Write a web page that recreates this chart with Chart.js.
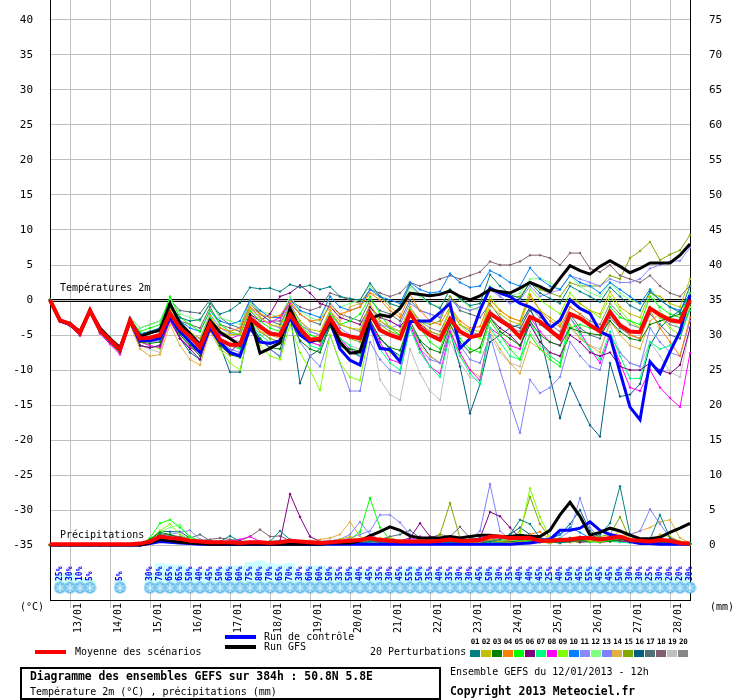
<!DOCTYPE html>
<html>
<head>
<meta charset="utf-8">
<script src="https://cdn.jsdelivr.net/npm/chart.js@4.4.1/dist/chart.umd.min.js"></script>
<style>
  body { margin: 0; background: #fff; }
  #wrap { position: relative; width: 740px; height: 700px; font-family: "DejaVu Sans Mono", monospace; color: #000; }
  #wrap canvas { position: absolute; left: 0; top: 0; }
  .t { position: absolute; white-space: nowrap; font-size: 10px; line-height: 12px; }
  .b { font-weight: bold; font-size: 11.4px; }
  .ln { position: absolute; height: 4px; width: 31px; }
  .sw { position: absolute; top: 650px; width: 10px; height: 7px; }
  .sn { position: absolute; top: 637px; width: 11px; text-align: center; font-size: 7.5px; letter-spacing: -0.3px; font-weight: bold; line-height: 9px; }
</style>
</head>
<body>
<div id="wrap">
  <canvas id="c" width="740" height="700"></canvas>

  <div class="t" style="left:20px;top:601px">(°C)</div>
  <div class="t" style="left:710px;top:601px">(mm)</div>

  <div class="ln" style="left:35px;top:650px;background:#ff0000"></div>
  <div class="t" style="left:75px;top:646px">Moyenne des scénarios</div>
  <div class="ln" style="left:225px;top:635px;background:#0000ff"></div>
  <div class="t" style="left:264px;top:631px">Run de contrôle</div>
  <div class="ln" style="left:225px;top:645px;background:#000000"></div>
  <div class="t" style="left:264px;top:641px">Run GFS</div>
  <div class="t" style="left:370px;top:646px">20 Perturbations</div>
  <div id="swatches"></div>

  <div style="position:absolute;left:20px;top:667px;width:421px;height:33px;border:2px solid #000;box-sizing:border-box"></div>
  <div class="t b" style="left:30px;top:670px">Diagramme des ensembles GEFS sur 384h : 50.8N 5.8E</div>
  <div class="t" style="left:30px;top:686px">Température 2m (°C) , précipitations (mm)</div>
  <div class="t" style="left:450px;top:666px">Ensemble GEFS du 12/01/2013 - 12h</div>
  <div class="t b" style="left:450px;top:685px">Copyright 2013 Meteociel.fr</div>
</div>

<script>
// ---------------- Data ----------------
const days = ['12/01','13/01','14/01','15/01','16/01','17/01','18/01','19/01','20/01',
              '21/01','22/01','23/01','24/01','25/01','26/01','27/01','28/01'];
const hours = ['00h','06h','12h','18h'];
// run du 12/01 12h, pas de 6h sur 384h
const timeLabels = days.flatMap(d => hours.map(h => d + ' ' + h)).slice(2, 67);

const tempTicks = [-35,-30,-25,-20,-15,-10,-5,0,5,10,15,20,25,30,35,40];
const precipTicks = [0,5,10,15,20,25,30,35,40,45,50,55,60,65,70,75];

// probabilité de neige (%)
const snowProb = [0,25,30,10,5,0,0,5,0,0,
  30,70,65,65,50,40,45,
  50,60,60,75,80,70,65,70,
  30,60,60,50,35,50,40,45,
  35,30,45,55,50,35,40,35,
  30,30,45,50,30,35,40,40,
  45,25,40,50,45,55,45,45,
  50,30,30,25,30,20,20,30];

const meanTemp = [0,-2.9,-3.4,-4.7,-1.5,-4.3,-5.7,-7.1,-2.9,
  -5.5,-5.4,-5.0,-1.9,-4.0,-5.2,-6.7,-3.4,
  -5.7,-6.4,-6.4,-2.6,-3.8,-4.8,-5.0,-2.1,
  -4.1,-5.7,-5.5,-2.6,-4.8,-5.2,-5.5,-1.9,
  -4.3,-5.0,-5.5,-1.9,-4.0,-5.0,-5.7,-2.7,
  -4.5,-5.3,-5.0,-1.9,-2.9,-3.8,-5.3,-2.4,
  -3.1,-4.3,-5.5,-2.0,-2.6,-3.6,-4.5,-1.7,
  -3.6,-4.5,-4.6,-1.2,-2.1,-2.9,-3.1,0.0];
const ctrlTemp = [0,-3.0,-3.5,-4.8,-1.5,-4.3,-5.8,-7.2,-3.0,
  -5.8,-5.8,-5.5,-2.5,-4.5,-6.0,-7.5,-4.0,
  -6.0,-7.5,-8.0,-4.0,-6.0,-6.2,-5.8,-2.5,
  -5.0,-6.0,-5.5,-3.0,-7.0,-8.6,-9.3,-3.5,
  -6.9,-7.1,-8.8,-3.1,-3.0,-3.0,-1.8,-0.5,
  -6.9,-5.5,-1.5,1.7,1.0,0.5,-0.5,-1.0,
  -1.9,-4.0,-2.9,0.0,-1.2,-1.9,-4.5,-5.2,
  -10.3,-15.3,-17.1,-8.8,-10.5,-7.4,-4.5,0.7];
const gfsTemp = [0,-2.9,-3.4,-4.5,-1.5,-4.0,-5.5,-6.8,-3.0,
  -5.2,-4.7,-4.3,-0.5,-3.3,-4.8,-6.4,-2.9,
  -4.6,-5.5,-6.5,-2.5,-7.6,-6.9,-6.1,-1.2,
  -4.3,-5.7,-5.7,-3.1,-6.0,-7.6,-7.4,-2.7,
  -2.1,-2.4,-1.2,1.0,0.8,0.6,0.8,1.3,
  0.5,0.0,0.6,1.5,1.2,1.0,1.7,2.5,
  1.9,1.2,3.1,4.9,4.2,3.7,4.8,5.6,
  4.8,3.9,4.5,5.3,5.3,5.3,6.4,8.0];

const meanPrecip = [0.1,0.1,0.1,0.1,0.1,0.1,0.1,0.1,0.1,0.2,
  0.5,1.2,1.0,0.9,0.6,0.5,0.4,
  0.4,0.4,0.3,0.4,0.4,0.3,0.4,0.6,
  0.5,0.4,0.3,0.4,0.5,0.6,0.7,1.0,
  0.7,0.6,0.5,0.5,0.5,0.5,0.6,0.8,
  0.6,0.6,0.7,1.2,1.2,1.0,1.0,1.0,
  0.6,0.6,0.7,0.8,1.0,1.0,0.8,1.0,
  1.2,0.7,0.6,0.5,0.7,0.6,0.3,0.2];
const ctrlPrecip = [0,0,0,0,0,0,0,0,0,0,
  0.2,0.5,0.4,0.3,0.2,0.1,0.1,
  0.1,0.1,0.1,0.1,0.1,0.1,0.1,0.1,
  0.1,0.1,0.1,0.1,0.1,0.1,0.1,0.1,
  0.1,0.1,0.1,0.1,0.1,0.1,0.1,0.1,
  0.1,0.1,0.1,0.1,0.1,0.1,0.2,0.3,
  0.5,0.8,2.1,2.1,2.4,3.3,2.1,1.5,
  1.2,0.5,0.2,0.2,0.1,0.1,0.1,0.1];
const gfsPrecip = [0,0,0,0,0,0,0,0,0,0,
  0.3,0.8,0.6,0.4,0.3,0.2,0.1,
  0.1,0.1,0.1,0.1,0.1,0.1,0.1,0.1,
  0.1,0.1,0.1,0.3,0.3,0.3,0.6,1.3,
  1.9,2.6,2.1,1.3,1.0,1.0,1.0,1.2,
  1.0,1.2,1.4,1.4,1.2,1.2,1.4,1.2,
  1.2,2.1,4.3,6.1,4.1,1.4,1.8,2.4,
  2.0,1.4,0.9,0.9,1.1,1.8,2.4,3.1];

// 20 perturbations : température (°C)
const t01 = [0,-2.8,-3.3,-4.6,-1.4,-4.2,-5.5,-6.9,-2.6,-4.8,-4.5,-4.0,-0.8,-2.5,-3.0,-2.8,-0.5,-2.0,-1.5,-0.4,1.8,1.6,1.7,1.2,2.2,1.8,2.1,1.5,1.9,0.5,0.2,0.0,2.4,0.5,-0.5,-1.0,2.2,0.8,-0.5,-1.2,1.5,0.2,-0.8,-0.5,3.6,2.0,0.8,0.2,2.5,1.0,0.2,-0.5,2.0,1.2,0.5,-0.3,1.8,0.5,-0.8,-1.5,1.2,0.0,-1.0,-1.8,2.0];
const t02 = [0,-3.0,-3.5,-4.8,-1.6,-4.4,-5.9,-7.3,-3.0,-5.0,-4.8,-4.2,-1.0,-3.5,-4.6,-5.5,-2.2,-4.5,-5.0,-4.8,-1.2,-2.5,-3.5,-3.8,-0.8,-3.0,-4.2,-4.5,-1.5,-3.5,-4.0,-4.2,-0.5,-3.0,-3.8,-4.5,-1.0,-3.2,-4.5,-5.0,-1.5,-3.5,-4.2,-4.5,-0.8,-2.0,-3.0,-3.5,0.5,-1.5,-2.5,-3.5,0.2,-0.5,-1.5,-2.0,1.2,-1.0,-2.0,-2.5,1.0,0.5,-0.5,-1.0,3.0];
const t03 = [0,-3.1,-3.6,-5.0,-1.7,-4.6,-6.0,-7.5,-3.2,-6.0,-6.2,-6.0,-2.5,-5.0,-6.5,-8.0,-4.0,-6.5,-7.8,-8.2,-3.5,-5.5,-6.8,-7.0,-2.8,-5.8,-7.0,-7.5,-3.8,-6.5,-7.0,-7.3,-2.8,-5.5,-6.8,-7.2,-3.0,-5.8,-7.0,-7.5,-3.5,-6.0,-7.5,-6.8,-2.5,-4.5,-5.5,-6.5,-3.0,-5.0,-6.0,-6.5,-4.0,-4.5,-4.8,-5.0,-3.0,-4.5,-5.5,-5.8,-3.5,-3.0,-2.5,-2.0,-0.5];
const t04 = [0,-2.9,-3.4,-4.6,-1.5,-4.2,-5.6,-7.0,-3.1,-5.5,-5.5,-5.2,-1.5,-4.5,-6.0,-7.0,-3.0,-4.0,-4.5,-4.0,-1.0,-2.0,-2.5,-2.2,-0.2,-2.0,-3.0,-2.8,-1.0,-2.0,-1.5,-1.0,1.0,0.0,-1.5,-2.5,0.8,-1.5,-3.0,-3.5,-1.0,-3.0,-4.0,-3.8,0.0,-1.5,-2.5,-3.0,0.8,-1.5,-3.0,-3.8,-1.0,-2.0,-3.5,-4.5,-1.5,-3.5,-5.0,-5.5,-1.5,-4.0,-6.0,-8.0,-2.5];
const t05 = [0,-2.8,-3.3,-4.5,-1.3,-4.1,-5.4,-6.8,-2.7,-4.5,-4.0,-3.5,0.5,-2.5,-3.5,-4.5,-1.5,-3.5,-4.5,-5.0,-1.5,-3.0,-4.0,-4.5,-1.0,-3.5,-5.0,-5.5,-2.0,-3.5,-3.0,-2.0,0.5,-2.0,-4.0,-5.0,-1.5,-4.0,-6.0,-7.0,-3.0,-5.5,-7.0,-7.5,-3.0,-5.0,-7.0,-8.5,-5.0,-7.0,-8.5,-9.5,-4.0,-3.5,-4.0,-4.5,-1.0,-2.5,-3.0,-3.5,0.5,-1.0,-2.0,-2.5,1.0];
const t06 = [0,-3.0,-3.5,-4.8,-1.6,-4.5,-6.0,-7.2,-3.3,-6.5,-6.8,-6.5,-2.8,-5.5,-7.0,-8.5,-4.2,-6.5,-7.5,-6.0,-2.0,-3.0,-2.0,0.5,1.0,2.1,1.0,-0.5,-1.0,-2.5,-3.0,-3.5,-1.0,-2.5,-3.0,-3.8,-2.0,-3.5,-4.5,-5.0,-2.5,-4.5,-5.5,-5.0,-2.5,-4.0,-5.0,-6.5,-3.5,-6.0,-7.5,-8.0,-5.0,-6.0,-7.5,-8.0,-7.5,-9.5,-10.0,-10.0,-9.0,-10.0,-10.5,-9.3,-4.0];
const t07 = [0,-3.0,-3.5,-4.9,-1.6,-4.4,-5.8,-7.3,-3.0,-5.8,-5.8,-5.5,-1.8,-4.5,-5.5,-6.0,-2.5,-5.5,-6.5,-7.0,-3.0,-5.0,-6.0,-6.2,-1.5,-4.5,-6.5,-7.0,-2.5,-5.5,-6.5,-8.0,-3.5,-7.0,-9.0,-10.0,-4.0,-7.5,-9.5,-11.0,-5.0,-8.0,-10.5,-12.0,-4.0,-6.0,-8.0,-8.5,-3.0,-6.0,-8.0,-9.0,-2.5,-5.0,-7.0,-8.5,-4.5,-8.0,-11.2,-11.2,-6.0,-7.0,-6.5,-5.0,-1.5];
const t08 = [0,-3.1,-3.7,-5.1,-1.8,-4.8,-6.3,-7.8,-3.3,-6.0,-6.5,-6.8,-3.0,-5.5,-6.8,-7.5,-3.5,-5.0,-5.5,-5.0,-1.5,-3.0,-3.2,-2.5,-0.5,-4.0,-6.0,-6.5,-3.0,-5.5,-7.0,-8.0,-3.0,-6.0,-8.5,-9.0,-3.5,-7.0,-9.5,-10.5,-4.5,-7.5,-10.0,-11.5,-4.0,-5.0,-6.5,-7.0,-2.5,-4.5,-6.0,-6.5,-2.5,-4.5,-7.0,-9.0,-5.0,-9.0,-12.5,-13.0,-10.0,-12.5,-14.0,-15.3,-7.6];
const t09 = [0,-2.9,-3.5,-4.8,-1.6,-4.5,-6.0,-7.5,-3.1,-6.0,-6.5,-7.0,-2.0,-5.0,-6.5,-7.5,-3.5,-7.0,-9.0,-10.0,-4.0,-6.5,-8.0,-8.5,-3.5,-7.5,-10.0,-12.9,-5.0,-9.0,-11.0,-11.5,-4.0,-6.5,-7.5,-8.0,-2.0,-4.0,-5.0,-5.5,-1.0,-3.5,-5.0,-5.5,0.5,-1.5,-2.5,-3.0,1.5,0.0,-1.0,-2.0,1.0,-0.5,-1.5,-2.5,0.5,-1.5,-3.0,-4.0,-1.0,-2.5,-4.0,-5.0,-0.5];
const t10 = [0,-2.8,-3.3,-4.5,-1.4,-4.0,-5.4,-6.8,-2.6,-5.0,-4.5,-4.0,-1.0,-3.0,-4.0,-4.5,-1.5,-3.0,-3.5,-3.0,0.0,-1.5,-2.5,-2.5,0.0,-1.5,-2.0,-2.5,0.5,-1.0,-1.5,-1.0,1.5,0.5,0.0,-0.5,2.5,1.5,1.0,1.2,3.8,2.5,1.8,2.0,4.2,3.5,2.5,2.0,4.6,3.0,2.0,1.5,3.5,2.5,2.0,1.0,2.5,1.5,0.5,-0.5,1.5,0.0,-1.0,-1.5,1.0];
const t11 = [0,-3.0,-3.4,-4.7,-1.5,-4.3,-5.7,-7.0,-3.0,-5.5,-5.2,-5.0,-1.5,-4.0,-5.0,-5.5,-2.0,-4.0,-4.8,-5.0,-1.0,-2.5,-3.5,-4.0,-0.5,-3.0,-4.5,-5.0,-1.5,-4.0,-5.0,-5.5,-2.0,-3.5,-4.0,-3.5,-0.5,-1.5,-2.0,-2.5,0.0,-1.0,-1.5,-1.0,1.5,0.5,-0.5,0.0,2.0,0.5,1.0,1.5,3.5,3.0,2.5,2.0,3.0,2.5,2.5,3.0,4.5,5.0,5.5,5.6,7.5];
const t12 = [0,-2.7,-3.2,-4.4,-1.2,-4.0,-5.3,-6.7,-2.5,-4.0,-3.5,-3.0,0.2,-2.0,-2.5,-3.0,-0.5,-2.5,-3.0,-3.5,-0.5,-1.5,-2.0,-2.5,0.5,-1.5,-2.5,-3.0,0.5,-1.0,-0.5,0.0,2.0,0.5,-0.5,-1.0,1.8,0.5,-0.5,-1.0,1.5,0.0,-1.0,-1.5,2.0,1.0,0.5,1.0,3.0,3.1,2.5,1.5,3.5,2.0,1.0,0.5,2.5,1.0,0.0,-0.5,1.5,-1.5,-3.0,-4.0,-1.0];
const t13 = [0,-3.0,-3.5,-4.9,-1.7,-4.5,-6.0,-7.5,-3.2,-6.0,-6.0,-5.8,-2.0,-5.0,-6.5,-7.5,-3.8,-6.0,-7.0,-7.5,-3.0,-5.5,-7.0,-8.0,-2.5,-6.0,-8.0,-9.5,-5.0,-9.0,-13.0,-13.0,-6.0,-8.5,-10.0,-10.5,-4.0,-7.0,-8.5,-9.0,-3.5,-6.5,-8.5,-9.0,-5.0,-10.0,-14.7,-19.0,-11.4,-13.3,-12.5,-11.0,-6.0,-8.0,-9.5,-10.0,-5.0,-7.5,-9.0,-9.5,-4.0,-6.0,-7.5,-8.0,-3.0];
const t14 = [0,-3.1,-3.7,-5.1,-1.8,-4.8,-6.3,-7.6,-3.5,-7.0,-8.0,-7.8,-3.5,-6.5,-8.5,-9.3,-4.5,-7.0,-8.0,-7.5,-3.0,-4.5,-5.0,-5.5,-2.0,-4.0,-5.5,-5.0,-1.5,-3.0,-1.0,-0.5,1.0,0.5,-1.0,-2.0,-3.5,-6.5,-8.0,-9.0,-4.0,-8.0,-10.0,-11.0,-4.5,-7.0,-9.0,-10.5,-6.0,-7.0,-8.0,-9.0,-3.5,-5.5,-6.5,-7.5,-3.0,-5.0,-6.5,-7.0,-3.0,-2.0,-2.5,-3.0,-0.5];
const t15 = [0,-2.9,-3.4,-4.7,-1.5,-4.3,-5.7,-7.1,-3.0,-5.8,-6.0,-5.5,-2.0,-4.5,-5.5,-6.5,-3.0,-5.5,-6.5,-6.8,-2.5,-4.5,-5.5,-6.0,-1.5,-4.0,-5.5,-6.0,-2.0,-4.5,-5.5,-6.0,-1.5,-3.5,-4.5,-5.0,-1.5,-3.0,-3.5,-3.0,0.5,-1.0,-1.5,-1.0,1.5,1.0,0.5,0.5,2.5,1.5,1.0,0.5,2.5,2.0,2.0,2.0,3.5,3.0,6.0,7.0,8.3,5.7,6.5,7.1,9.3];
const t16 = [0,-3.0,-3.6,-5.0,-1.7,-4.6,-6.1,-7.4,-3.2,-6.5,-6.8,-6.5,-2.0,-5.5,-7.5,-8.5,-3.5,-6.5,-10.3,-10.3,-3.5,-5.5,-7.0,-8.1,-2.0,-11.9,-8.0,-7.0,-3.5,-6.5,-7.5,-8.0,-3.0,-5.5,-7.0,-8.0,-3.5,-6.0,-8.0,-9.0,-4.5,-9.5,-16.2,-12.0,-6.0,-5.0,-4.0,-3.5,-1.0,-5.0,-11.0,-16.9,-11.9,-15.0,-17.9,-19.5,-9.0,-13.8,-13.5,-12.0,-6.5,-4.0,-2.5,-1.5,0.5];
const t17 = [0,-2.8,-3.2,-4.5,-1.3,-4.0,-5.3,-6.7,-2.5,-4.0,-3.5,-3.0,0.0,-1.5,-1.7,-1.9,0.0,-2.5,-3.5,-4.0,0.0,-2.0,-3.0,-3.5,-0.5,-2.0,-3.0,-3.5,-0.5,-2.0,-2.5,-3.0,0.0,-1.5,-2.0,-3.0,0.0,-1.5,-2.0,-2.5,0.5,-1.5,-2.0,-2.5,-0.5,-2.5,-3.5,-4.0,-1.5,-3.5,-4.5,-5.0,-2.0,-4.0,-5.0,-5.5,-2.5,-4.0,-5.0,-5.5,-2.0,-3.5,-5.0,-5.5,-1.0];
const t18 = [0,-2.9,-3.4,-4.6,-1.5,-4.2,-5.6,-7.0,-2.8,-5.0,-4.8,-4.5,-1.2,-3.0,-3.5,-4.0,-1.0,-3.5,-4.0,-4.5,-0.5,-2.0,-3.0,-3.0,0.0,-1.0,-1.5,-1.0,1.0,0.5,0.0,-0.5,1.5,1.0,0.5,1.0,2.5,2.0,2.5,3.0,3.5,3.0,3.5,4.0,5.5,5.0,5.0,5.5,6.4,6.4,6.0,5.0,6.7,6.7,4.5,4.0,5.0,3.5,3.0,2.5,3.5,2.0,1.0,0.5,2.0];
const t19 = [0,-3.1,-3.6,-5.0,-1.7,-4.6,-6.0,-7.6,-3.3,-6.5,-7.0,-7.5,-2.5,-5.5,-6.5,-7.0,-3.0,-5.5,-6.5,-7.0,-2.0,-4.5,-5.5,-6.0,-1.5,-4.5,-6.0,-6.5,-2.5,-5.5,-6.5,-7.0,-3.0,-11.4,-13.5,-14.3,-7.0,-10.5,-13.0,-14.3,-6.0,-9.0,-11.0,-11.5,-5.0,-7.5,-9.0,-9.5,-4.5,-6.5,-7.5,-8.0,-4.0,-5.5,-6.5,-7.0,-3.5,-7.5,-9.0,-9.5,-6.0,-8.0,-10.3,-11.0,-4.0];
const t20 = [0,-2.9,-3.5,-4.8,-1.6,-4.4,-5.8,-7.2,-3.0,-5.5,-5.5,-5.3,-1.8,-4.0,-5.0,-6.0,-2.5,-5.0,-5.5,-6.0,-2.0,-3.5,-4.5,-5.0,-1.5,-3.5,-4.5,-5.0,-2.0,-3.5,-4.0,-4.5,-1.0,-3.0,-4.0,-4.5,-1.0,-3.0,-4.0,-4.5,-1.5,-3.5,-4.5,-5.0,-1.5,-3.0,-4.0,-4.5,-1.0,-2.5,-3.5,-4.5,-1.0,-2.0,-3.0,-3.5,-0.5,-2.0,-3.5,-4.0,-1.0,-2.5,-3.5,-4.0,-0.5];

// 20 perturbations : précipitations (mm)
const r01 = [0,0,0,0,0,0,0,0,0,0,0.5,1.5,1.0,0.8,0.5,0.3,0.3,0.5,1.3,0.5,0.3,0.2,0.5,2.0,0.8,0.5,0.3,0.2,0.3,0.5,0.4,0.3,0.5,0.4,0.3,0.3,0.2,0.3,0.5,0.4,0.3,0.5,0.8,0.6,0.5,0.8,1.5,3.6,3.0,1.0,0.5,0.3,0.5,0.8,1.0,1.5,3.1,8.4,1.5,0.5,0.8,4.3,1.0,0.4,0.2];
const r02 = [0,0,0,0,0,0,0,0,0,0,0.3,0.8,0.6,0.5,0.3,0.2,0.2,0.2,0.2,0.1,0.2,0.3,0.2,0.1,0.3,0.2,0.3,0.5,0.5,0.8,1.2,0.6,0.5,0.3,0.2,0.4,0.5,0.3,0.2,0.5,0.8,0.5,0.3,0.4,0.6,0.5,0.3,0.5,0.8,0.5,0.3,0.5,0.8,1.0,0.6,0.5,1.0,2.0,0.8,0.5,0.3,1.5,1.2,0.5,0.2];
const r03 = [0,0,0,0,0,0,0,0,0,0,0.8,1.8,1.5,1.0,0.6,0.4,0.3,0.3,0.2,0.2,0.3,0.2,0.2,0.3,0.4,0.3,0.3,0.2,0.4,0.5,0.4,0.6,1.0,0.5,0.4,0.3,0.3,0.4,0.5,0.3,0.4,0.3,0.2,0.3,0.5,0.5,0.4,0.6,0.8,0.5,0.4,0.3,0.5,0.6,0.8,0.7,0.5,0.8,0.5,0.3,0.4,0.5,0.3,0.2,0.1];
const r04 = [0,0,0,0,0,0,0,0,0,0,0.2,0.6,0.8,0.5,0.3,0.2,0.1,0.1,0.2,0.3,0.2,0.1,0.2,0.2,0.3,0.2,0.3,0.4,0.5,0.6,0.8,0.5,0.8,1.0,0.8,0.5,0.3,0.5,0.4,0.3,0.6,0.5,0.4,0.6,0.8,0.5,0.6,1.0,1.5,1.9,0.8,0.5,0.4,0.6,0.8,0.6,1.0,0.8,0.5,0.4,0.3,0.5,0.4,0.2,0.1];
const r05 = [0,0,0,0,0,0,0,0,0,0,1.0,3.1,3.6,2.5,1.2,0.6,0.4,0.3,0.4,0.3,0.2,0.3,0.4,0.3,0.2,0.3,0.2,0.3,0.4,0.5,0.8,1.9,6.7,2.5,0.8,0.5,0.4,0.3,0.5,0.6,1.0,0.5,0.4,0.3,0.5,0.4,0.3,0.5,0.6,0.4,0.3,0.5,0.6,0.8,0.5,0.4,0.6,0.8,0.5,0.3,0.4,0.6,0.5,0.3,0.2];
const r06 = [0,0,0,0,0,0,0,0,0,0,0.5,1.2,1.0,0.6,0.4,0.3,0.2,0.2,0.3,0.2,0.3,0.2,0.3,0.5,7.3,4.0,1.2,0.5,0.3,0.4,0.5,0.4,0.6,0.5,0.4,0.6,1.0,3.1,1.2,1.0,0.8,0.6,0.5,1.0,4.7,4.1,2.5,1.0,0.5,0.4,0.3,0.5,0.6,0.4,0.5,0.6,0.8,0.6,0.5,0.3,0.4,0.3,0.5,0.3,0.2];
const r07 = [0,0,0,0,0,0,0,0,0,0,0.6,1.5,1.2,0.8,0.5,0.3,0.2,0.2,0.3,0.2,0.1,0.2,0.3,0.2,0.3,0.2,0.3,0.5,0.4,0.5,0.6,0.8,0.5,0.4,0.3,0.5,0.6,0.4,0.3,0.5,0.4,0.3,0.5,0.6,0.4,0.5,0.8,0.6,0.5,0.6,0.8,1.0,0.6,0.5,0.4,0.6,0.5,0.4,0.3,0.5,0.6,0.4,0.3,0.2,0.1];
const r08 = [0,0,0,0,0,0,0,0,0,0,0.4,1.0,0.8,0.5,0.3,0.4,0.3,0.3,0.5,0.8,1.2,0.5,0.3,0.2,0.4,0.3,0.2,0.3,0.4,0.3,0.5,0.6,1.2,0.5,0.3,0.4,0.8,1.2,0.6,0.5,0.4,0.3,0.4,0.5,0.6,0.4,0.3,0.5,0.6,0.5,0.4,0.6,0.8,1.0,0.6,0.4,0.5,0.6,0.4,0.3,0.5,0.4,0.3,0.2,0.1];
const r09 = [0,0,0,0,0,0,0,0,0,0,0.8,2.0,3.0,1.5,0.8,0.5,0.3,0.3,0.2,0.3,0.2,0.3,0.4,0.3,0.5,0.4,0.3,0.4,0.5,0.3,0.4,0.5,0.8,0.5,0.4,0.3,0.5,0.4,0.3,0.6,0.8,0.5,0.4,0.3,0.6,0.8,1.0,1.5,8.1,4.0,1.0,0.6,0.5,0.4,0.6,0.8,0.5,0.6,0.4,0.3,0.5,0.4,0.3,0.2,0.1];
const r10 = [0,0,0,0,0,0,0,0,0,0,0.3,0.8,0.6,0.4,0.3,0.2,0.2,0.2,0.1,0.2,0.3,0.2,0.1,0.2,0.3,0.2,0.1,0.2,0.3,0.2,0.3,0.4,0.3,0.2,0.3,0.2,0.1,0.2,0.3,0.2,0.4,0.3,0.2,0.4,0.5,0.3,0.4,0.5,0.6,0.8,1.0,1.5,2.5,1.8,1.0,0.6,0.8,0.5,0.4,0.3,0.4,0.3,0.2,0.2,0.1];
const r11 = [0,0,0,0,0,0,0,0,0,0,0.5,1.2,1.5,1.8,2.1,0.8,0.5,0.3,0.4,0.3,0.2,0.3,0.4,0.3,0.4,0.5,0.4,0.3,0.5,0.6,1.0,1.5,2.0,4.3,4.3,3.2,1.5,0.8,0.5,0.6,0.5,0.4,0.5,0.6,0.8,0.5,0.4,0.6,0.5,0.6,0.8,1.0,2.0,6.7,2.5,0.8,0.6,0.5,0.4,0.3,0.5,0.4,0.3,0.2,0.1];
const r12 = [0,0,0,0,0,0,0,0,0,0,0.6,1.8,2.5,2.9,1.0,0.5,0.3,0.3,0.2,0.3,0.4,0.3,0.2,0.3,0.4,0.3,0.2,0.3,0.2,0.3,0.4,0.5,0.6,0.4,0.3,0.2,0.3,0.4,0.3,0.5,0.6,0.4,0.3,0.5,0.4,0.6,0.5,0.8,1.0,0.6,0.4,0.5,0.6,0.8,0.5,0.4,0.6,0.5,0.4,0.3,0.5,0.4,0.3,0.2,0.1];
const r13 = [0,0,0,0,0,0,0,0,0,0,0.4,1.0,0.8,0.6,0.5,0.3,0.4,0.3,0.2,0.3,0.2,0.3,0.4,0.3,0.5,0.4,0.3,0.5,0.6,0.8,1.5,3.3,1.5,0.8,0.5,0.4,0.3,0.5,0.6,0.4,0.5,0.6,0.8,2.0,8.7,2.0,0.8,0.5,0.6,0.5,0.4,0.6,0.5,0.8,0.6,0.5,0.8,1.0,1.5,2.0,5.1,3.0,1.0,0.5,0.2];
const r14 = [0,0,0,0,0,0,0,0,0,0,0.3,0.9,0.8,0.5,0.4,0.3,0.2,0.2,0.3,0.2,0.3,0.4,0.3,0.2,0.4,0.5,0.6,0.8,1.0,1.5,3.3,1.2,0.6,0.5,1.0,0.6,0.4,0.5,0.4,0.3,0.5,0.4,0.3,0.5,0.6,0.4,0.5,0.6,0.8,0.6,0.5,0.4,0.6,0.8,1.0,0.8,0.6,1.2,1.5,2.0,2.5,3.3,3.6,1.0,0.3];
const r15 = [0,0,0,0,0,0,0,0,0,0,0.5,1.2,1.0,0.6,0.4,0.3,0.2,0.2,0.3,0.2,0.3,0.2,0.3,0.4,0.5,0.4,0.3,0.2,0.3,0.4,0.5,0.6,0.8,0.5,0.4,0.3,0.5,0.6,0.8,1.5,6.0,1.0,0.5,0.4,0.6,0.5,0.8,2.0,6.9,3.0,1.0,0.6,0.5,0.8,1.0,1.2,1.5,4.0,0.8,0.5,0.6,0.5,0.4,0.3,0.2];
const r16 = [0,0,0,0,0,0,0,0,0,0,0.8,2.0,1.9,1.9,1.0,0.5,0.3,0.3,0.4,0.5,0.3,0.4,0.5,0.6,0.4,0.3,0.4,0.3,0.5,0.4,0.3,0.5,0.6,0.8,1.0,0.6,0.5,0.4,0.6,0.8,0.6,0.5,0.8,1.0,0.6,0.8,1.5,2.5,1.5,1.0,0.8,1.5,3.0,5.0,2.0,1.0,0.8,0.6,0.5,0.4,0.6,0.5,0.4,0.3,0.2];
const r17 = [0,0,0,0,0,0,0,0,0,0,0.6,1.6,1.4,1.2,1.0,1.5,0.6,0.5,0.4,0.3,0.4,0.3,0.2,0.4,0.5,0.4,0.3,0.4,0.5,0.6,0.5,0.8,1.0,0.8,1.2,1.5,2.1,1.0,0.6,0.5,0.4,0.5,0.6,0.5,0.8,0.6,0.5,0.4,0.6,0.5,0.6,0.8,1.0,0.8,0.6,0.5,0.8,0.6,0.5,0.4,0.6,0.8,0.5,0.3,0.2];
const r18 = [0,0,0,0,0,0,0,0,0,0,0.4,1.0,0.8,0.6,0.5,0.6,0.8,1.0,0.8,0.6,1.2,2.2,1.2,1.3,0.6,0.5,0.4,0.3,0.5,0.4,0.5,0.6,0.5,0.4,0.3,0.5,0.6,0.8,1.0,1.5,1.2,2.6,1.0,0.6,0.5,0.4,0.6,0.5,0.8,0.6,0.5,0.8,1.0,0.6,0.5,0.4,0.6,0.5,0.4,0.6,0.8,0.5,0.4,0.3,0.2];
const r19 = [0,0,0,0,0,0,0,0,0,0,0.5,1.0,0.8,0.6,0.4,0.3,0.3,0.2,0.3,0.2,0.3,0.4,0.3,0.2,0.3,0.4,0.5,0.3,0.4,0.5,0.6,0.4,0.5,0.6,0.5,0.4,0.5,0.3,0.4,0.6,0.5,0.4,0.5,0.6,0.8,0.6,0.5,0.4,0.6,0.5,0.6,0.8,0.6,0.5,0.8,1.0,0.8,0.6,0.5,0.8,1.0,0.6,0.5,0.3,0.2];
const r20 = [0,0,0,0,0,0,0,0,0,0,0.6,1.2,1.0,0.8,0.6,0.4,0.3,0.3,0.4,0.3,0.2,0.3,0.4,0.5,0.6,0.4,0.3,0.4,0.5,0.4,0.6,0.5,0.8,0.6,0.5,0.4,0.6,0.5,0.4,0.6,0.8,0.6,0.5,0.8,1.0,0.8,0.6,0.5,0.6,0.5,0.6,0.5,0.8,1.2,0.8,0.6,0.5,0.6,0.8,0.5,0.6,0.5,0.4,0.3,0.2];

const pertTemp = [t01,t02,t03,t04,t05,t06,t07,t08,t09,t10,t11,t12,t13,t14,t15,t16,t17,t18,t19,t20];
const pertPrecip = [r01,r02,r03,r04,r05,r06,r07,r08,r09,r10,r11,r12,r13,r14,r15,r16,r17,r18,r19,r20];
const pertColors = ['#008080','#c0c000','#008000','#ff8000','#00ff00','#800080','#00ff80','#ff00ff','#80ff00','#0080ff',
                    '#8888ff','#80ff80','#8080ff','#e0b040','#80a800','#006080','#507078','#806070','#c0c0c0','#888888'];

// ---------------- Legend swatches ----------------
const swBox = document.getElementById('swatches');
pertColors.forEach((col, i) => {
  const left = 470 + i * 10.96;
  const n = document.createElement('div');
  n.className = 'sn';
  n.style.left = (left - 0.5) + 'px';
  n.textContent = String(i + 1).padStart(2, '0');
  swBox.appendChild(n);
  const s = document.createElement('div');
  s.className = 'sw';
  s.style.left = left + 'px';
  s.style.background = col;
  swBox.appendChild(s);
});

// ---------------- Chart ----------------
const MONO = '"DejaVu Sans Mono", monospace';
Chart.defaults.font.family = MONO;
Chart.defaults.color = '#000';

const SNOW_ROW = -41.1;   // rangée des flocons (en °C, sous l'axe)

function makeFlake() {
  const c = document.createElement('canvas');
  c.width = 13; c.height = 13;
  const g = c.getContext('2d');
  g.fillStyle = '#78c6ee';
  g.beginPath(); g.arc(6.5, 6.5, 6, 0, Math.PI * 2); g.fill();
  g.strokeStyle = '#e4f8ff'; g.lineWidth = 1;
  for (let k = 0; k < 3; k++) {
    const a = k * Math.PI / 3 + Math.PI / 2;
    g.beginPath();
    g.moveTo(6.5 + 4.5 * Math.cos(a), 6.5 + 4.5 * Math.sin(a));
    g.lineTo(6.5 - 4.5 * Math.cos(a), 6.5 - 4.5 * Math.sin(a));
    g.stroke();
  }
  g.fillStyle = '#3c90d8';
  [[3, 3], [10, 3], [3, 10], [10, 10], [6.5, 1.5], [6.5, 11.5]].forEach(([px, py]) => g.fillRect(px - 0.5, py - 0.5, 1, 1));
  return c;
}
const flake = makeFlake();

const lineDs = (label, data, color, width, axis, points) => ({
  type: 'line', label, data, yAxisID: axis,
  borderColor: color, backgroundColor: color, borderWidth: width,
  pointRadius: points ? 1.5 : 0, pointStyle: 'rectRot', pointBorderWidth: 0,
  tension: 0
});

const datasets = [
  lineDs('Moyenne T', meanTemp, '#ff0000', 4, 'y', false),
  lineDs('Moyenne P', meanPrecip, '#ff0000', 4, 'y2', false),
  lineDs('GFS T', gfsTemp, '#000000', 3, 'y', false),
  lineDs('GFS P', gfsPrecip, '#000000', 3, 'y2', false),
  lineDs('Contrôle T', ctrlTemp, '#0000ff', 3, 'y', false),
  lineDs('Contrôle P', ctrlPrecip, '#0000ff', 3, 'y2', false)
];
pertTemp.forEach((d, i) => {
  datasets.push(lineDs('P' + (i + 1) + ' T', d, pertColors[i], 1, 'y', true));
  datasets.push(lineDs('P' + (i + 1) + ' P', pertPrecip[i], pertColors[i], 1, 'y2', true));
});
datasets.push({
  type: 'line', label: 'neige', yAxisID: 'y',
  data: snowProb.map(p => p > 0 ? SNOW_ROW : null),
  showLine: false, pointStyle: flake, pointRadius: 6
});
datasets.push({
  type: 'bar', label: 'proba', yAxisID: 'yProb',
  data: snowProb.map(p => p || null),
  base: -36, backgroundColor: '#ccffff', borderWidth: 0,
  barPercentage: 1, categoryPercentage: 1
});

const overlay = {
  id: 'overlay',
  beforeDatasetsDraw(chart) {
    const { ctx, chartArea: a, scales: { y } } = chart;
    const y0 = Math.round(y.getPixelForValue(0));
    ctx.save();
    ctx.strokeStyle = '#000';
    ctx.lineWidth = 1;
    [y0 - 0.5, y0 + 1.5].forEach(py => {
      ctx.beginPath(); ctx.moveTo(a.left, py); ctx.lineTo(a.right, py); ctx.stroke();
    });
    ctx.restore();
  },
  afterDatasetsDraw(chart) {
    const { ctx, scales: { x, y } } = chart;
    ctx.save();
    ctx.fillStyle = '#000';
    ctx.font = '10px ' + MONO;
    ctx.textBaseline = 'middle';
    ctx.textAlign = 'left';
    ctx.fillText('Températures 2m', 60, y.getPixelForValue(0) - 12);
    ctx.fillText('Précipitations', 60, y.getPixelForValue(-35) - 10);

    ctx.fillStyle = '#0000ff';
    ctx.font = 'bold 8px ' + MONO;
    snowProb.forEach((p, i) => {
      if (!p) return;
      ctx.save();
      ctx.translate(x.getPixelForValue(i) - 0.5, 581);
      ctx.rotate(-Math.PI / 2);
      ctx.fillText(p + '%', 0, 0);
      ctx.restore();
    });
    ctx.restore();
  }
};

new Chart(document.getElementById('c'), {
  type: 'line',
  data: { labels: timeLabels, datasets },
  plugins: [overlay],
  options: {
    responsive: false,
    animation: false,
    events: [],
    layout: { padding: 0, autoPadding: false },
    plugins: { legend: { display: false }, tooltip: { enabled: false } },
    scales: {
      x: {
        type: 'category',
        offset: false,
        grid: {
          offset: false,
          color: c => (c.index % 4 === 2 ? '#c0c0c0' : 'rgba(0,0,0,0)'),
          tickLength: 8
        },
        border: { color: '#000' },
        ticks: {
          autoSkip: false, minRotation: 90, maxRotation: 90,
          padding: -5, labelOffset: 8,
          font: { size: 10 },
          callback: (v, i) => (timeLabels[i].endsWith('00h') ? timeLabels[i].slice(0, 5) : '')
        },
        afterFit: s => { s.height = 100; s.paddingLeft = 0; s.paddingRight = 0; }
      },
      y: {
        position: 'left',
        min: -300 / 7, max: 300 / 7,
        afterBuildTicks: s => { s.ticks = tempTicks.map(v => ({ value: v })); },
        grid: { color: '#c0c0c0', drawTicks: false },
        border: { color: '#000' },
        ticks: { padding: 17, font: { size: 11 } },
        afterFit: s => { s.width = 50; s.paddingTop = 0; s.paddingBottom = 0; }
      },
      y2: {
        position: 'right',
        min: -300 / 7 + 35, max: 300 / 7 + 35,
        afterBuildTicks: s => { s.ticks = precipTicks.map(v => ({ value: v })); },
        grid: { drawOnChartArea: false, drawTicks: false },
        border: { color: '#000' },
        ticks: { padding: 19, font: { size: 11 } },
        afterFit: s => { s.width = 50; s.paddingTop = 0; s.paddingBottom = 0; }
      },
      yProb: {
        display: false,
        min: -76, max: 2324
      }
    }
  }
});
</script>
</body>
</html>
